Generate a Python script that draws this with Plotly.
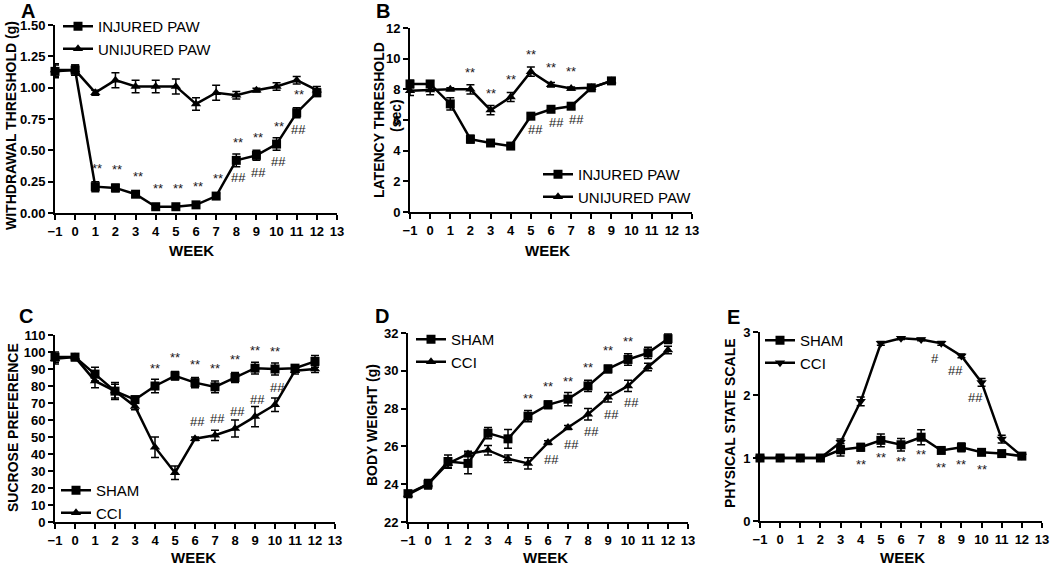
import plotly.graph_objects as go

W, H = 1050, 565
FONT = "Arial, Liberation Sans, sans-serif"

weeks = list(range(-1, 13))
weeks_b = list(range(-1, 10))

# A - von Frey withdrawal threshold (g)
a_injured = [1.13, 1.14, 0.21, 0.20, 0.15, 0.05, 0.05, 0.065, 0.135, 0.42, 0.46, 0.55, 0.80, 0.96]
a_injured_err = [0.05, 0.04, 0.04, 0.03, 0.025, 0.015, 0.015, 0.015, 0.02, 0.05, 0.04, 0.05, 0.04, 0.03]
a_uninjured = [1.14, 1.14, 0.96, 1.06, 1.01, 1.01, 1.01, 0.87, 0.96, 0.94, 0.98, 1.01, 1.06, 0.98]
a_uninjured_err = [0.05, 0.04, 0.02, 0.06, 0.05, 0.05, 0.06, 0.05, 0.06, 0.03, 0.015, 0.03, 0.03, 0.03]
a_stars = [1, 2, 3, 4, 5, 6, 7, 8, 9, 10, 11]
a_hash = [8, 9, 10, 11]

# B - latency threshold (sec)
b_injured = [8.35, 8.35, 7.05, 4.75, 4.5, 4.3, 6.25, 6.7, 6.9, 8.1, 8.55]
b_injured_err = [0.25, 0.2, 0.4, 0.25, 0.15, 0.1, 0.15, 0.15, 0.15, 0.1, 0.15]
b_uninjured = [7.9, 7.95, 8.0, 8.0, 6.65, 7.5, 9.15, 8.3, 8.05, 8.1, 8.55]
b_uninjured_err = [0.3, 0.3, 0.1, 0.3, 0.3, 0.3, 0.3, 0.15, 0.1, 0.1, 0.1]
b_stars = [2, 3, 4, 5, 6, 7]
b_hash = [5, 6, 7]

# C - sucrose preference
c_sham = [97, 97, 87, 77, 72, 80, 86, 82, 79.5, 85, 90.5, 90, 90.5, 94.5]
c_sham_err = [3, 2, 4, 5, 2, 4, 2.5, 3, 3.5, 3, 3.5, 3.5, 2, 3.5]
c_cci = [96, 97, 83, 77, 68, 44, 29, 49, 51, 55, 62, 69, 89, 90]
c_cci_err = [3, 2, 4, 4, 2, 6, 4, 1, 3, 5, 6, 4, 2, 2]
c_stars = [4, 5, 6, 7, 8, 9, 10]
c_hash = [6, 7, 8, 9, 10]

# D - body weight (g)
d_sham = [23.5, 24.0, 25.2, 25.1, 26.7, 26.4, 27.6, 28.2, 28.5, 29.2, 30.1, 30.6, 30.95, 31.7]
d_sham_err = [0.15, 0.25, 0.35, 0.55, 0.3, 0.5, 0.3, 0.2, 0.35, 0.3, 0.2, 0.3, 0.3, 0.25]
d_cci = [23.45, 24.0, 25.1, 25.6, 25.8, 25.35, 25.1, 26.2, 27.0, 27.7, 28.6, 29.2, 30.2, 31.1]
d_cci_err = [0.15, 0.2, 0.2, 0.15, 0.25, 0.2, 0.3, 0.1, 0.1, 0.3, 0.25, 0.3, 0.2, 0.2]
d_stars = [5, 6, 7, 8, 9, 10]
d_hash = [6, 7, 8, 9, 10]

# E - physical state scale
e_sham = [1.0, 1.0, 1.0, 1.0, 1.13, 1.17, 1.28, 1.21, 1.33, 1.12, 1.17, 1.09, 1.07, 1.03]
e_sham_err = [0.01, 0.01, 0.01, 0.01, 0.1, 0.06, 0.1, 0.1, 0.12, 0.04, 0.07, 0.03, 0.03, 0.03]
e_cci = [1.0, 1.0, 1.0, 1.0, 1.25, 1.9, 2.82, 2.9, 2.88, 2.82, 2.62, 2.2, 1.3, 1.03]
e_cci_err = [0.01, 0.01, 0.01, 0.01, 0.05, 0.07, 0.03, 0.02, 0.02, 0.03, 0.03, 0.06, 0.06, 0.02]
e_stars = [4, 5, 6, 7, 8, 9, 10]
e_hash = {8: "#", 9: "##", 10: "##"}


def px(x):
    return x / W


def py(y):
    return 1 - y / H


fig = go.Figure()


def series(x, y, err, name, symbol, n, legend):
    fig.add_trace(go.Scatter(
        x=x, y=y, name=name, mode="lines+markers",
        line=dict(color="black", width=2.5),
        marker=dict(symbol=symbol, size=9, color="black"),
        error_y=dict(type="data", array=err, color="black", thickness=1.5, width=4),
        xaxis="x" + ("" if n == 1 else str(n)), yaxis="y" + ("" if n == 1 else str(n)),
        legend=legend, cliponaxis=False,
    ))


series(weeks, a_injured, a_injured_err, "INJURED PAW", "square", 1, "legend")
series(weeks, a_uninjured, a_uninjured_err, "UNIJURED PAW", "triangle-up", 1, "legend")
series(weeks_b, b_injured, b_injured_err, "INJURED PAW", "square", 2, "legend2")
series(weeks_b, b_uninjured, b_uninjured_err, "UNIJURED PAW", "triangle-up", 2, "legend2")
series(weeks, c_sham, c_sham_err, "SHAM", "square", 3, "legend3")
series(weeks, c_cci, c_cci_err, "CCI", "triangle-up", 3, "legend3")
series(weeks, d_sham, d_sham_err, "SHAM", "square", 4, "legend4")
series(weeks, d_cci, d_cci_err, "CCI", "triangle-up", 4, "legend4")
series(weeks, e_sham, e_sham_err, "SHAM", "square", 5, "legend5")
series(weeks, e_cci, e_cci_err, "CCI", "triangle-down", 5, "legend5")

ann = []


def marks(n, wk_list, xs, ys, text, yshift, xshift=0):
    ref = "" if n == 1 else str(n)
    for w in wk_list:
        t = text[w] if isinstance(text, dict) else text
        v = ys[xs.index(w)]
        ann.append(dict(x=w, y=v, xref="x" + ref, yref="y" + ref, text=t, showarrow=False,
                        yshift=yshift, xshift=xshift, font=dict(family=FONT, size=13, color="#1a1a1a")))


marks(1, a_stars, weeks, a_injured, "**", 18, 2)
marks(1, a_hash, weeks, a_injured, "##", -17, 2)
marks(2, b_stars, weeks_b, b_uninjured, "**", 17)
marks(2, b_hash, weeks_b, b_injured, "##", -13, 5)
marks(3, c_stars, weeks, c_sham, "**", 18)
marks(3, c_hash, weeks, c_cci, "##", 17, 2)
marks(4, d_stars, weeks, d_sham, "**", 18)
marks(4, d_hash, weeks, d_cci, "##", -17, 3)
marks(5, e_stars, weeks, e_sham, "**", -17)
marks(5, list(e_hash), weeks, e_cci, e_hash, -15, -6)


def label(t, x, y, size, bold=True, angle=0):
    ann.append(dict(x=px(x), y=py(y), xref="paper", yref="paper", text=t, showarrow=False,
                    xanchor="center", yanchor="middle", textangle=angle,
                    font=dict(family=FONT, size=size, color="black",
                              weight="bold" if bold else "normal")))


# panel letters, axis titles
for t, x, y in [("A", 28, 11), ("B", 383, 11), ("C", 26, 316), ("D", 382, 316), ("E", 733, 317)]:
    label(t, x, y, 20)
for x, y in [(191, 250), (547, 250), (193, 557), (545, 557), (902, 557)]:
    label("WEEK", x, y, 15)
for t, x, y in [("WITHDRAWAL THRESHOLD (g)", 11, 126), ("LATENCY THRESHOLD", 379, 120),
                ("(sec)", 396, 116), ("SUCROSE PREFERENCE", 13, 428),
                ("BODY WEIGHT (g)", 372, 425), ("PHYSICAL STATE SCALE", 730, 423)]:
    label(t, x, y, 14, angle=-90)

boxes = {1: (55, 337, 25, 213), 2: (410, 692, 28, 212), 3: (55, 335, 335, 522),
         4: (408, 688, 333, 522), 5: (760, 1042, 332, 521)}
yranges = {1: ([0, 1.5], 0.25, ".2f"), 2: ([0, 12], 2, ""), 3: ([0, 110], 10, ""),
           4: ([22, 32], 2, ""), 5: ([0, 3], 1, "")}
ticks = dict(showline=True, linewidth=2, linecolor="black", ticks="outside", ticklen=5, tickwidth=2,
             tickcolor="black", showgrid=False, zeroline=False, automargin=False,
             tickfont=dict(family=FONT, size=13, color="black", weight="bold"))
lay = {}
for n, (x0, x1, y0, y1) in boxes.items():
    ref = "" if n == 1 else str(n)
    rng, dt, fmt = yranges[n]
    lay["xaxis" + ref] = dict(domain=[px(x0), px(x1)], range=[-1, 13], dtick=1, tick0=-1,
                              anchor="y" + ref, **ticks)
    lay["yaxis" + ref] = dict(domain=[py(y1), py(y0)], range=rng, dtick=dt, tickformat=fmt,
                              anchor="x" + ref, **ticks)

leg = dict(font=dict(family=FONT, size=15, color="black"), bgcolor="rgba(0,0,0,0)",
           itemwidth=30, xanchor="left", yanchor="top", tracegroupgap=0)
lay["legend"] = dict(x=px(58), y=py(10), **leg)
lay["legend2"] = dict(x=px(538), y=py(158), **leg)
lay["legend3"] = dict(x=px(56), y=py(474), **leg)
lay["legend4"] = dict(x=px(411), y=py(323), **leg)
lay["legend5"] = dict(x=px(760), y=py(324), **leg)

fig.update_layout(width=W, height=H, margin=dict(l=0, r=0, t=0, b=0, autoexpand=False),
                  plot_bgcolor="white", paper_bgcolor="white", showlegend=True,
                  annotations=ann, **lay)
# the page body has a default 8px margin; drop it so the figure fills the window
fig.write_html("out.html", config={"displayModeBar": False},
               post_script="document.body.style.margin='0';")
